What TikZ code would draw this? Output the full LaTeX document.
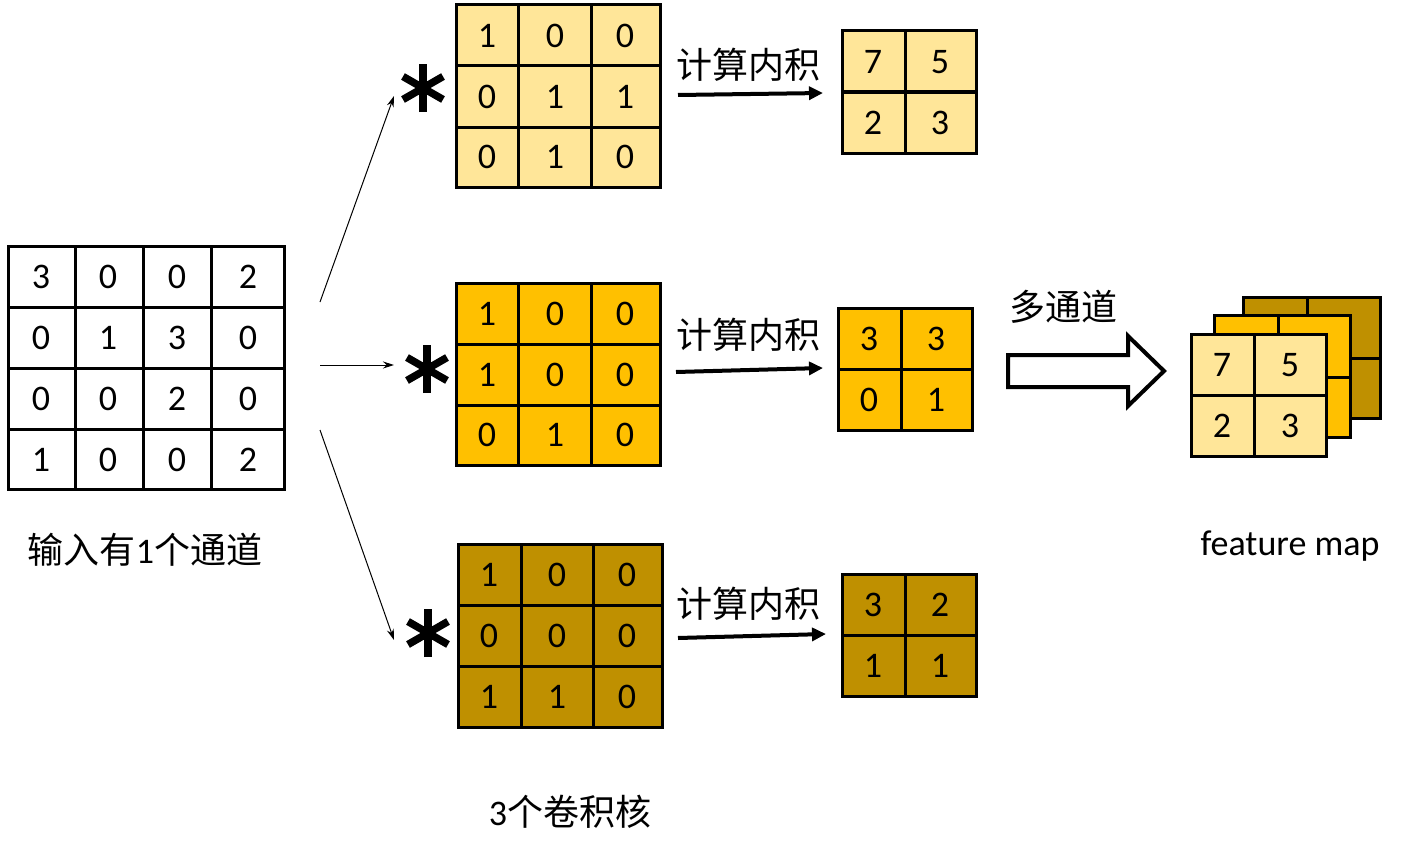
\documentclass[tikz,border=0pt]{standalone}
\usepackage{fontspec}
\setmainfont{Carlito}
\newfontfamily\cjk{Noto Sans CJK SC}
\usetikzlibrary{arrows.meta}
\definecolor{klight}{HTML}{FFE699}
\definecolor{kgold}{HTML}{FFC000}
\definecolor{kdark}{HTML}{BF9000}
\tikzset{
  gl/.style={line width=3pt},
  num/.style={font=\fontsize{36}{36}\selectfont, inner sep=0pt},
  lbl/.style={font=\fontsize{36}{36}\selectfont, inner sep=0pt},
  thinarr/.style={line width=1pt,-{Stealth[length=11pt,width=7pt]}},
  thickarr/.style={line width=4pt,-{Triangle[length=14pt,width=13pt]}},
  star/.style={line width=7.5pt},
}
\begin{document}
\begin{tikzpicture}[x=1pt,y=-1pt]
\useasboundingbox[fill=white] (0,0) rectangle (1406,859);

% ---------- input matrix ----------
\draw[gl,fill=white] (8,246) rectangle (284,489);
\foreach \x in {75,143,211} \draw[gl] (\x,246)--(\x,489);
\foreach \y in {307,368,429} \draw[gl] (8,\y)--(284,\y);
\foreach \v/\x [count=\i] in {3/41,0/108,0/177,2/248} \node[num] (inA\i) at (\x,277) {\v};
\foreach \v/\x [count=\i] in {0/41,1/108,3/177,0/248} \node[num] (inB\i) at (\x,338) {\v};
\foreach \v/\x [count=\i] in {0/41,0/108,2/177,0/248} \node[num] (inC\i) at (\x,399) {\v};
\foreach \v/\x [count=\i] in {1/41,0/108,0/177,2/248} \node[num] (inD\i) at (\x,460) {\v};
\node[lbl] (inlbl) at (145,550) {{\cjk 输入有}1{\cjk 个通道}};

% ---------- kernel 1 ----------
\draw[gl,fill=klight] (456,5) rectangle (660,187);
\foreach \x in {518,591} \draw[gl] (\x,5)--(\x,187);
\foreach \y in {66,127} \draw[gl] (456,\y)--(660,\y);
\foreach \v/\x [count=\i] in {1/487,0/555,0/625} \node[num] (kaA\i) at (\x,36) {\v};
\foreach \v/\x [count=\i] in {0/487,1/555,1/625} \node[num] (kaB\i) at (\x,97) {\v};
\foreach \v/\x [count=\i] in {0/487,1/555,0/625} \node[num] (kaC\i) at (\x,157) {\v};

% ---------- kernel 2 ----------
\draw[gl,fill=kgold] (456,283) rectangle (660,465);
\foreach \x in {518,591} \draw[gl] (\x,283)--(\x,465);
\foreach \y in {344,405} \draw[gl] (456,\y)--(660,\y);
\foreach \v/\x [count=\i] in {1/487,0/555,0/625} \node[num] (kbA\i) at (\x,314) {\v};
\foreach \v/\x [count=\i] in {1/487,0/555,0/625} \node[num] (kbB\i) at (\x,375) {\v};
\foreach \v/\x [count=\i] in {0/487,1/555,0/625} \node[num] (kbC\i) at (\x,435) {\v};

% ---------- kernel 3 ----------
\draw[gl,fill=kdark] (458,544) rectangle (662,727);
\foreach \x in {521,593} \draw[gl] (\x,544)--(\x,727);
\foreach \y in {605,666} \draw[gl] (458,\y)--(662,\y);
\foreach \v/\x [count=\i] in {1/489,0/557,0/627} \node[num] (kcA\i) at (\x,575) {\v};
\foreach \v/\x [count=\i] in {0/489,0/557,0/627} \node[num] (kcB\i) at (\x,636) {\v};
\foreach \v/\x [count=\i] in {1/489,1/557,0/627} \node[num] (kcC\i) at (\x,697) {\v};
\node[lbl] (klbl) at (570,812) {3{\cjk 个卷积核}};

% ---------- asterisks ----------
\foreach \n/\cx/\cy in {sa/423/88, sb/427/369, sc/428/633}{
  \coordinate (\n) at (\cx,\cy);
  \draw[star] ([yshift=-24pt]\n) -- ([yshift=24pt]\n);
  \draw[star] ([xshift=-20pt,yshift=-11.5pt]\n) -- ([xshift=20pt,yshift=11.5pt]\n);
  \draw[star] ([xshift=-20pt,yshift=11.5pt]\n) -- ([xshift=20pt,yshift=-11.5pt]\n);
}

% ---------- thin arrows ----------
\coordinate (fa) at (320,302);
\coordinate (fb) at (320,365);
\coordinate (fc) at (320,430);
\coordinate (ta) at (394,96);
\coordinate (tb) at (394,365);
\coordinate (tc) at (394,640);
\draw[thinarr] (fa) -- (ta);
\draw[thinarr] (fb) -- (tb);
\draw[thinarr] (fc) -- (tc);

% ---------- results ----------
\draw[gl,fill=klight] (842,31) rectangle (976,153);
\draw[gl] (905,31)--(905,153); \draw[gl] (842,92)--(976,92);
\node[num] (raA) at (873,62) {7}; \node[num] (raB) at (940,62) {5};
\node[num] (raC) at (873,123) {2}; \node[num] (raD) at (940,123) {3};

\draw[gl,fill=kgold] (838,308) rectangle (972,430);
\draw[gl] (901,308)--(901,430); \draw[gl] (838,369)--(972,369);
\node[num] (rbA) at (869,339) {3}; \node[num] (rbB) at (936,339) {3};
\node[num] (rbC) at (869,400) {0}; \node[num] (rbD) at (936,400) {1};

\draw[gl,fill=kdark] (842,574) rectangle (976,696);
\draw[gl] (905,574)--(905,696); \draw[gl] (842,635)--(976,635);
\node[num] (rcA) at (873,605) {3}; \node[num] (rcB) at (940,605) {2};
\node[num] (rcC) at (873,666) {1}; \node[num] (rcD) at (940,666) {1};

% ---------- inner product arrows ----------
\node[lbl,font=\fontsize{36}{36}\selectfont\cjk] (ipa) at (748,65) {计算内积};
\node[lbl,font=\fontsize{36}{36}\selectfont\cjk] (ipb) at (748,335) {计算内积};
\node[lbl,font=\fontsize{36}{36}\selectfont\cjk] (ipc) at (748,604) {计算内积};
\coordinate (pa1) at (678,95); \coordinate (pa2) at (823,93);
\coordinate (pb1) at (676,372); \coordinate (pb2) at (823,368);
\coordinate (pc1) at (678,638); \coordinate (pc2) at (826,634);
\draw[thickarr] (pa1) -- (pa2);
\draw[thickarr] (pb1) -- (pb2);
\draw[thickarr] (pc1) -- (pc2);

% ---------- hollow arrow ----------
\node[lbl,font=\fontsize{36}{36}\selectfont\cjk] (multi) at (1063,307) {多通道};
\draw[line width=4pt,fill=white,line join=miter]
  (1008,355) -- (1128,355) -- (1128,336) -- (1164,371) -- (1128,406) -- (1128,387) -- (1008,387) -- cycle;

% ---------- feature map stack ----------
\draw[gl,fill=kdark] (1243,297) rectangle (1380,418);
\draw[gl] (1307,297)--(1307,418); \draw[gl] (1243,358)--(1380,358);
\draw[gl,fill=kgold] (1214,315) rectangle (1350,437);
\draw[gl] (1278,315)--(1278,437); \draw[gl] (1214,377)--(1350,377);
\draw[gl,fill=klight] (1191,334) rectangle (1326,456);
\draw[gl] (1254,334)--(1254,456); \draw[gl] (1191,395)--(1326,395);
\node[num] (fmA) at (1222,365) {7}; \node[num] (fmB) at (1290,365) {5};
\node[num] (fmC) at (1222,426) {2}; \node[num] (fmD) at (1290,426) {3};
\node[lbl] (fmlbl) at (1290,546) {feature map};
\end{tikzpicture}
\end{document}
